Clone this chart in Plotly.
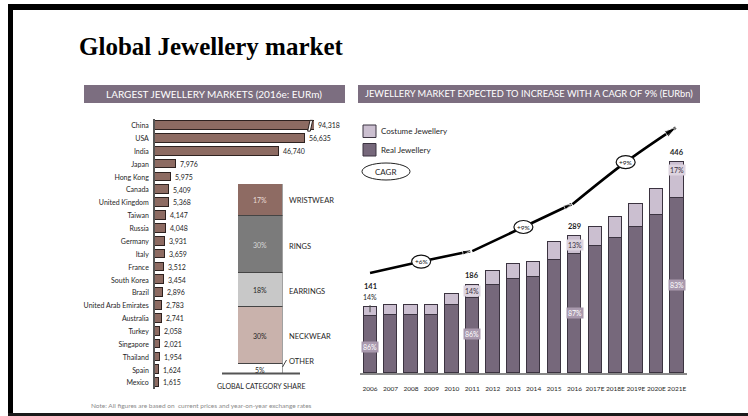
import plotly.graph_objects as go

W, H = 748, 416

# ---- data: largest jewellery markets, 2016e (EURm) ----
countries = ["China", "USA", "India", "Japan", "Hong Kong", "Canada", "United Kingdom",
             "Taiwan", "Russia", "Germany", "Italy", "France", "South Korea", "Brazil",
             "United Arab Emirates", "Australia", "Turkey", "Singapore", "Thailand",
             "Spain", "Mexico"]
market_eurm = [94318, 56635, 46740, 7976, 5975, 5409, 5368, 4147, 4048, 3931, 3659,
               3512, 3454, 2896, 2783, 2741, 2058, 2021, 1954, 1624, 1615]

# ---- data: global category share (%), bottom to top ----
share_cats = ["OTHER", "NECKWEAR", "EARRINGS", "RINGS", "WRISTWEAR"]
share_pct = [5, 30, 18, 30, 17]

# ---- data: market size by year (EURbn) ----
years = ["2006", "2007", "2008", "2009", "2010", "2011", "2012", "2013", "2014", "2015",
         "2016", "2017E", "2018E", "2019E", "2020E", "2021E"]
real_jewellery = [121, 123, 124, 124, 145, 160, 187, 200, 204, 240, 251, 269, 286, 308, 334, 370]
costume_jewellery = [20, 21, 20, 20, 23, 26, 30, 30, 31, 37, 38, 40, 44, 50, 56, 76]
labelled_years = ["2006", "2011", "2016", "2021E"]

# ---- data: CAGR trend arrow (three segments) ----
cagr_labels = ["+6%", "+9%", "+9%"]
trend_x = [[0.0, 2.5, 4.9], [5.0, 7.5, 9.85], [9.9, 12.5, 14.95]]
trend_y = [[212, 236, 258], [258, 309, 357], [357, 446, 519]]

SANS = "Lato, Roboto, sans-serif"
SERIF = "Liberation Serif, Times New Roman, serif"
BAND = "#7c6e80"
BROWN = "#8d6b62"
REAL = "#76687b"
COSTUME = "#cbbfd0"
EDGE = "#3b3340"
TXT = "#262626"


def fx(px):
    return px / W


def fy(py):
    return 1 - py / H


fig = go.Figure()

# left: horizontal bars (China bar runs past the axis end and is shown broken)
X_MAX = 60000
fig.add_trace(go.Bar(
    x=market_eurm, y=countries, orientation="h", width=0.68,
    marker=dict(color=BROWN, line=dict(color="#2e2220", width=1)),
    xaxis="x", yaxis="y", showlegend=False, hoverinfo="x+y"))

# middle: category share stacked column
share_colors = ["#ffffff", "#c9b2ac", "#c8c8c8", "#7b7b7b", "#8e6b63"]
for cat, val, col in zip(share_cats, share_pct, share_colors):
    fig.add_trace(go.Bar(
        x=["share"], y=[val], width=1, name=cat,
        marker=dict(color=col, line=dict(color="#444444", width=1.5)),
        xaxis="x3", yaxis="y3", showlegend=False))

# right: real + costume jewellery stacked columns
fig.add_trace(go.Bar(
    x=years, y=real_jewellery, name="Real Jewellery", width=0.65,
    marker=dict(color=REAL, line=dict(color=EDGE, width=1)),
    xaxis="x2", yaxis="y2", showlegend=False))
fig.add_trace(go.Bar(
    x=years, y=costume_jewellery, name="Costume Jewellery", width=0.65,
    marker=dict(color=COSTUME, line=dict(color=EDGE, width=1)),
    xaxis="x2", yaxis="y2", showlegend=False))

# CAGR trend arrow segments
for i in range(3):
    fig.add_trace(go.Scatter(
        x=trend_x[i], y=trend_y[i], mode="lines+markers",
        line=dict(color="#000000", width=2.6, shape="spline"),
        marker=dict(symbol="arrow", angleref="previous",
                    size=[0, 0, 12 if i == 2 else 8], color="#000000"),
        xaxis="x4", yaxis="y4", showlegend=False, hoverinfo="skip"))

shapes = []
annotations = []

# page frame
shapes += [
    dict(type="rect", xref="paper", yref="paper", x0=fx(8), x1=1.0, y0=fy(10), y1=fy(4),
         fillcolor="#000000", line=dict(width=0), layer="above"),
    dict(type="rect", xref="paper", yref="paper", x0=fx(8), x1=fx(13), y0=0, y1=fy(4),
         fillcolor="#000000", line=dict(width=0), layer="above"),
    dict(type="rect", xref="paper", yref="paper", x0=fx(8), x1=1.0, y0=0, y1=fy(413),
         fillcolor="#1a1a1a", line=dict(width=0), layer="above"),
]

# title
annotations.append(dict(text="<b>Global Jewellery market</b>", xref="paper", yref="paper",
                        x=fx(77), y=fy(46), xanchor="left", yanchor="middle", showarrow=False,
                        font=dict(family=SERIF, size=25, color="#000000")))

# header bands
for x0, x1, txt, fs in [(84, 345, "LARGEST JEWELLERY MARKETS (2016e: EURm)", 10),
                        (358, 700, "JEWELLERY MARKET EXPECTED TO INCREASE WITH A CAGR OF 9% (EURbn)", 9.3)]:
    shapes.append(dict(type="rect", xref="paper", yref="paper", x0=fx(x0), x1=fx(x1),
                       y0=fy(103), y1=fy(85), fillcolor=BAND, line=dict(width=0)))
    annotations.append(dict(text=txt, xref="paper", yref="paper", x=fx((x0 + x1) / 2),
                            y=fy(94), xanchor="center", yanchor="middle", showarrow=False,
                            font=dict(family=SANS, size=fs, color="#ffffff")))

# value labels on the left bars
for c, v in zip(countries, market_eurm):
    annotations.append(dict(text=f"{v:,}", x=min(v, X_MAX), y=c, xref="x", yref="y",
                            xanchor="left", yanchor="middle", xshift=2, showarrow=False,
                            font=dict(family=SANS, size=7, color=TXT)))

# axis-break mark on the China bar
bx = 57600
shapes.append(dict(type="path", xref="x", yref="y",
                   path=f"M {bx},0.42 L {bx + 900},-0.42 L {bx + 1900},-0.42 L {bx + 1000},0.42 Z",
                   fillcolor="#ffffff", line=dict(color="#2e2220", width=1)))

# category share labels
cum = 0
seg_text_colors = [TXT, TXT, TXT, "#d8d8d8", "#eadcd6"]
label_rows = {"WRISTWEAR": 200, "RINGS": 246, "EARRINGS": 291, "NECKWEAR": 336, "OTHER": 361}
for cat, val, tc in zip(share_cats, share_pct, seg_text_colors):
    mid = cum + val / 2
    annotations.append(dict(text=f"{val}%", x=0, y=mid - (0.6 if cat == "OTHER" else 0),
                            xref="x3", yref="y3", showarrow=False,
                            font=dict(family=SANS, size=7, color=tc)))
    annotations.append(dict(text=cat, xref="paper", yref="paper", x=fx(287),
                            y=fy(label_rows[cat]), xanchor="left", yanchor="middle",
                            showarrow=False, font=dict(family=SANS, size=7.5, color=TXT)))
    cum += val
shapes.append(dict(type="line", xref="paper", yref="paper", x0=fx(282.5), x1=fx(286.5),
                   y0=fy(367), y1=fy(360), line=dict(color="#444444", width=1)))
shapes.append(dict(type="line", xref="paper", yref="paper", x0=fx(222), x1=fx(300),
                   y0=fy(373.5), y1=fy(373.5), line=dict(color="#555555", width=2)))
annotations.append(dict(text="GLOBAL CATEGORY SHARE", xref="paper", yref="paper", x=fx(261),
                        y=fy(386), xanchor="center", yanchor="middle", showarrow=False,
                        font=dict(family=SANS, size=7, color=TXT)))

# footnote
annotations.append(dict(text="Note: All figures are based on  current prices and year-on-year exchange rates",
                        xref="paper", yref="paper", x=fx(89), y=fy(405), xanchor="left",
                        yanchor="middle", showarrow=False,
                        font=dict(family=SANS, size=6.5, color="#8a8a8a")))

# totals and shares on selected years (positions by category index)
for yr in labelled_years:
    i = years.index(yr)
    r, c = real_jewellery[i], costume_jewellery[i]
    tot = r + c
    first = i == 0
    annotations.append(dict(text=f"<b>{tot}</b>", x=i, y=tot, xref="x2", yref="y2",
                            yanchor="bottom", yshift=14 if first else 3, showarrow=False,
                            font=dict(family=SANS, size=7.5, color="#1e1e1e")))
    cpct = round(100 * c / tot)
    rpct = round(100 * r / tot)
    if first:
        annotations.append(dict(text=f"{cpct}%", x=i, y=tot, xref="x2", yref="y2",
                                yanchor="bottom", yshift=4, showarrow=False,
                                font=dict(family=SANS, size=7, color="#1e1e1e")))
        shapes.append(dict(type="line", xref="x2", yref="y2", x0=i, x1=i,
                           y0=r + 8, y1=tot + 3, line=dict(color="#444444", width=1)))
    else:
        annotations.append(dict(text=f"{cpct}%", x=i, y=r + c / 2, xref="x2", yref="y2",
                                yshift=10 if yr == "2021E" else 0, showarrow=False,
                                bgcolor="#ddd4e0", borderpad=1,
                                font=dict(family=SANS, size=7, color="#3a2f40")))
    annotations.append(dict(text=f"{rpct}%", x=i, y=r / 2 + (2 if not first else -4), xref="x2",
                            yref="y2", showarrow=False, bgcolor="#a999ae", borderpad=1,
                            font=dict(family=SANS, size=7, color="#ffffff")))

# CAGR ellipses on the trend arrow
for i, lab in enumerate(cagr_labels):
    cx, cy = trend_x[i][1], trend_y[i][1]
    shapes.append(dict(type="circle", xref="x4", yref="y4", xsizemode="pixel",
                       ysizemode="pixel", xanchor=cx, yanchor=cy, x0=-9.5, x1=9.5, y0=-6.5, y1=6.5,
                       fillcolor="#ffffff", line=dict(color="#111111", width=1.2), layer="above"))
    annotations.append(dict(text=lab, x=cx, y=cy, xref="x4", yref="y4", showarrow=False,
                            font=dict(family=SANS, size=6.5, color="#111111")))

# custom legend
for y0, col, txt in [(125, COSTUME, "Costume Jewellery"), (143.5, REAL, "Real Jewellery")]:
    shapes.append(dict(type="rect", xref="paper", yref="paper", x0=fx(363), x1=fx(376),
                       y0=fy(y0 + 12.5), y1=fy(y0), fillcolor=col, line=dict(color=EDGE, width=1)))
    annotations.append(dict(text=txt, xref="paper", yref="paper", x=fx(379), y=fy(y0 + 6.5),
                            xanchor="left", yanchor="middle", showarrow=False,
                            font=dict(family=SANS, size=8, color=TXT)))
shapes.append(dict(type="circle", xref="paper", yref="paper", x0=fx(362), x1=fx(410),
                   y0=fy(180), y1=fy(163), fillcolor="#ffffff", line=dict(color="#222222", width=1)))
annotations.append(dict(text="CAGR", xref="paper", yref="paper", x=fx(386), y=fy(171.5),
                        showarrow=False, font=dict(family=SANS, size=8, color=TXT)))

R_TOP = 535
right_dom_x = [fx(359.8), fx(687)]
right_dom_y = [fy(373.3), fy(120)]

fig.update_layout(
    width=W, height=H, margin=dict(l=0, r=0, t=0, b=0),
    paper_bgcolor="#ffffff", plot_bgcolor="rgba(0,0,0,0)",
    barmode="stack", bargap=0, showlegend=False,
    font=dict(family=SANS, size=7, color=TXT),
    xaxis=dict(domain=[fx(155), fx(314)], range=[0, X_MAX], visible=False, fixedrange=True),
    yaxis=dict(domain=[fy(389.4), fy(119.3)], type="category", categoryorder="array",
               categoryarray=countries, range=[20.5, -0.5], showgrid=False, zeroline=False,
               showline=True, linecolor="#555555", linewidth=1.5, ticks="",
               ticklabelstandoff=3, tickfont=dict(family=SANS, size=7, color=TXT)),
    xaxis3=dict(domain=[fx(238), fx(282.5)], range=[-0.5, 0.5], visible=False, anchor="y3"),
    yaxis3=dict(domain=[fy(373.5), fy(184)], range=[0, 100], visible=False, anchor="x3"),
    xaxis2=dict(domain=right_dom_x, type="category", range=[-0.5, 15.5], anchor="y2",
                showline=True, linecolor="#888888", linewidth=1.5, ticks="", showgrid=False,
                tickangle=0, ticklabelstandoff=8,
                tickfont=dict(family=SANS, size=6.5, color=TXT)),
    yaxis2=dict(domain=right_dom_y, range=[0, R_TOP], visible=False, anchor="x2"),
    xaxis4=dict(domain=right_dom_x, range=[-0.5, 15.5], visible=False, anchor="y4",
                overlaying="x2"),
    yaxis4=dict(domain=right_dom_y, range=[0, R_TOP], visible=False, anchor="x4",
                overlaying="y2"),
    shapes=shapes, annotations=annotations,
)

fig.write_html("out.html")
